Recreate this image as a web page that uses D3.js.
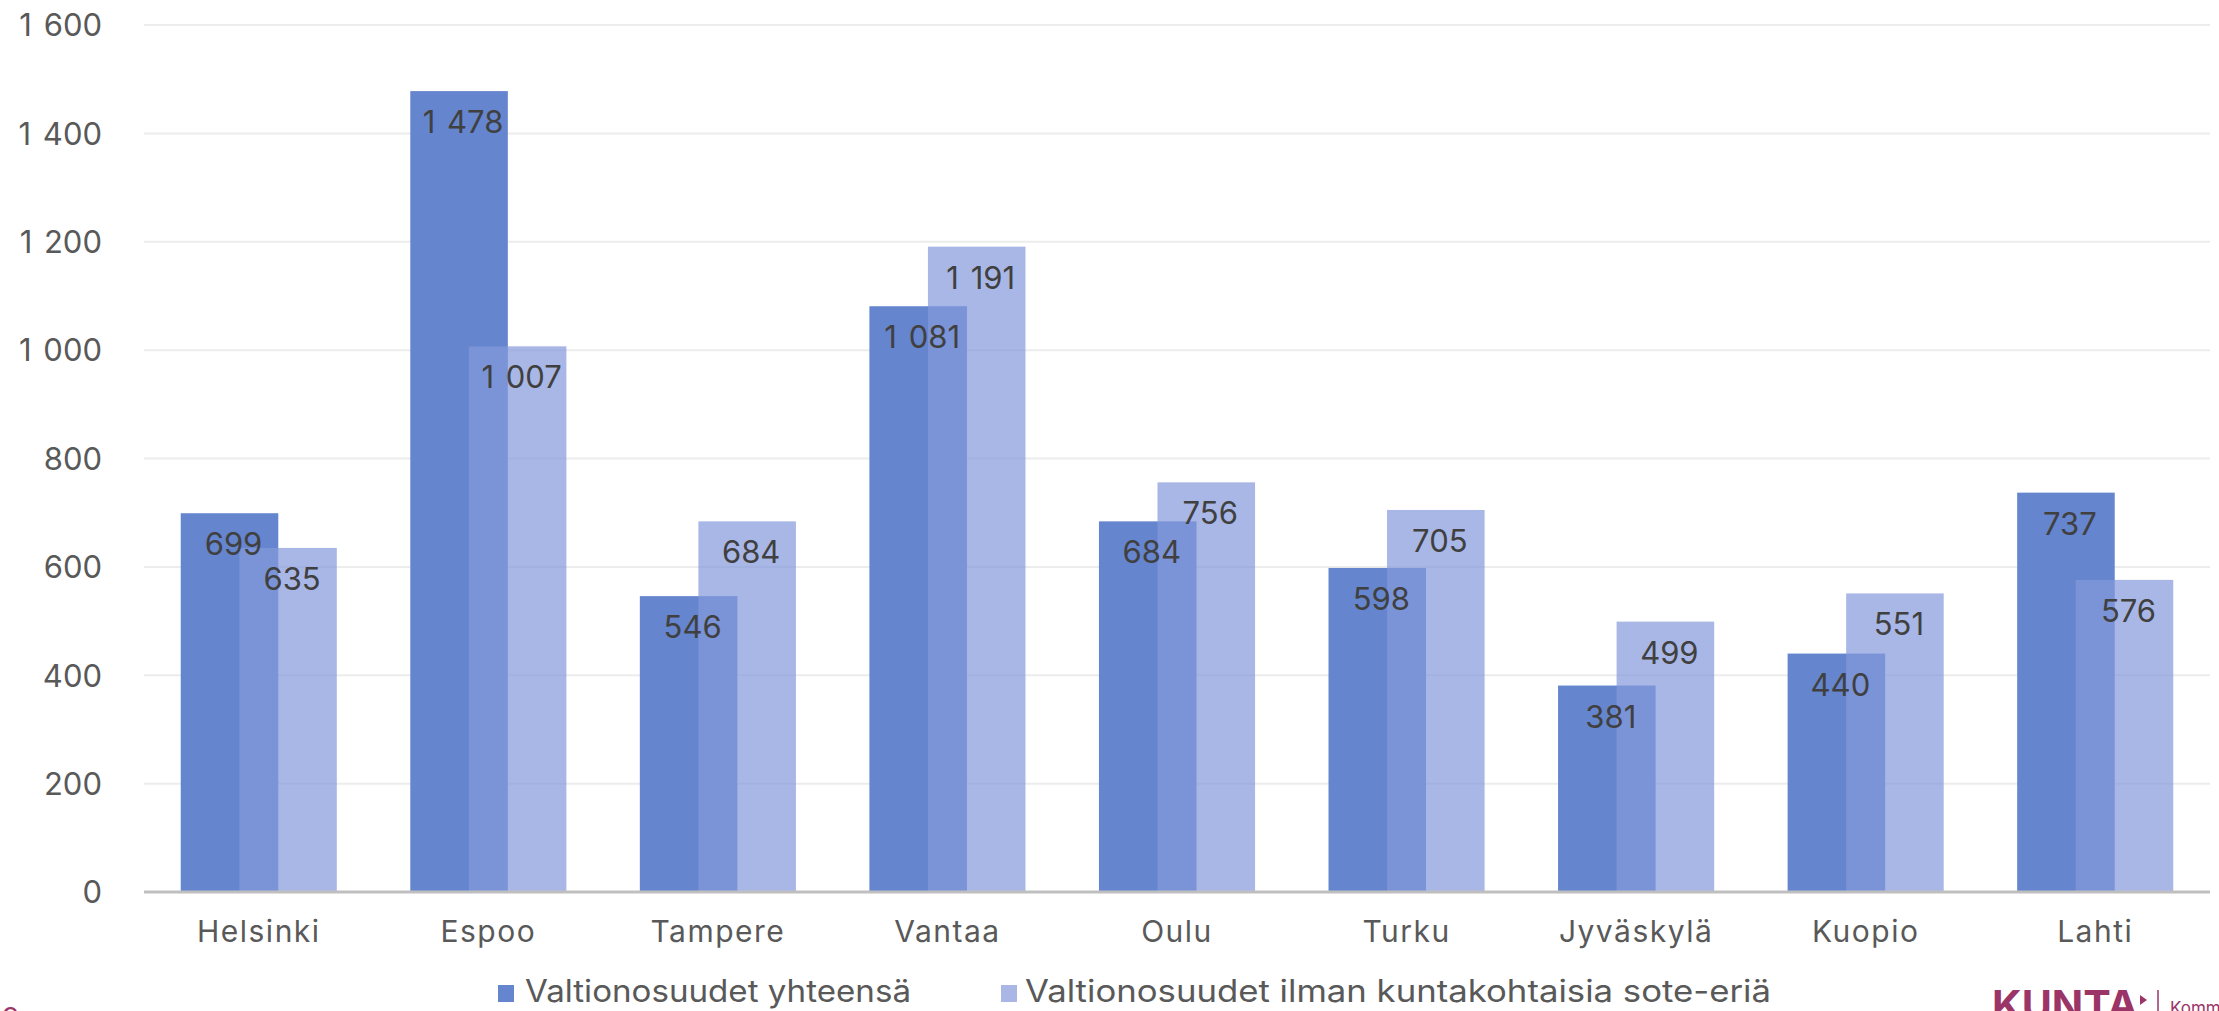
<!DOCTYPE html>
<html>
<head>
<meta charset="utf-8">
<script src="https://cdn.jsdelivr.net/npm/d3@7"></script>
<style>
  html, body { margin: 0; padding: 0; background: #ffffff; overflow: hidden; }
  svg { display: block; }
  text { font-family: Inter, "Open Sans", sans-serif; }
</style>
</head>
<body>
<svg id="chart" width="2219" height="1011"></svg>
<script>
// ---- data ----
const categories = ["Helsinki", "Espoo", "Tampere", "Vantaa", "Oulu", "Turku", "Jyväskylä", "Kuopio", "Lahti"];
const seriesNames = ["Valtionosuudet yhteensä", "Valtionosuudet ilman kuntakohtaisia sote-eriä"];
const totalValues = [699, 1478, 546, 1081, 684, 598, 381, 440, 737];
const withoutSoteValues = [635, 1007, 684, 1191, 756, 705, 499, 551, 576];
const yTicks = [0, 200, 400, 600, 800, 1000, 1200, 1400, 1600];

// ---- layout ----
const W = 2219, H = 1011;
const plot = { left: 144, right: 2210, top: 25, bottom: 892 };
const svg = d3.select("#chart");

const fmt = v => d3.format(",")(v).replace(/,/g, "\u2002").replace(/\u2002/g, " ");

const x = d3.scaleBand().domain(categories).range([plot.left, plot.right]).paddingInner(0).paddingOuter(0);
const y = d3.scaleLinear().domain([0, 1600]).range([plot.bottom, plot.top]);

const groupW = x.bandwidth() * 0.68;
const barW = groupW / 1.6;
const offset = barW * 0.6;

// gridlines
svg.append("g").selectAll("line").data(yTicks.filter(t => t > 0)).join("line")
  .attr("x1", plot.left).attr("x2", plot.right)
  .attr("y1", d => y(d)).attr("y2", d => y(d))
  .attr("stroke", "#ececec").attr("stroke-width", 2);

// y axis labels
const yAxis = d3.axisLeft(y).tickValues(yTicks).tickFormat(fmt).tickSize(0).tickPadding(0);
const yg = svg.append("g").attr("transform", `translate(102,0)`).call(yAxis);
yg.select(".domain").remove();
yg.selectAll("text").attr("font-family", "Inter, sans-serif").attr("font-size", 31)
  .attr("fill", "#595959").attr("dy", "0.35em").attr("x", 0).attr("word-spacing", 3);

const series = [
  { name: seriesNames[0], values: totalValues, color: "#6585ce", opacity: 1, shift: 0 },
  { name: seriesNames[1], values: withoutSoteValues, color: "rgb(133,152,219)", opacity: 0.7, shift: 1 }
];

const barX = (cat, s) => x(cat) + (x.bandwidth() - groupW) / 2 + s.shift * offset;

// bars
series.forEach(s => {
  svg.append("g").selectAll("rect").data(categories).join("rect")
    .attr("x", (c) => barX(c, s))
    .attr("width", barW)
    .attr("y", (c, i) => y(s.values[i]))
    .attr("height", (c, i) => y(0) - y(s.values[i]))
    .attr("fill", s.color)
    .attr("fill-opacity", s.opacity);
});

// axis baseline
svg.append("line").attr("x1", plot.left).attr("x2", plot.right)
  .attr("y1", y(0)).attr("y2", y(0)).attr("stroke", "#bfbfbf").attr("stroke-width", 3);

// value labels
series.forEach(s => {
  svg.append("g").selectAll("text").data(categories).join("text")
    .attr("x", c => barX(c, s) + barW / 2 + 4)
    .attr("y", (c, i) => y(s.values[i]) + 42)
    .attr("text-anchor", "middle")
    .attr("font-size", 31)
    .attr("word-spacing", 3)
    .attr("fill", "#404040")
    .text((c, i) => fmt(s.values[i]));
});

// category labels
const xAxis = d3.axisBottom(x).tickSize(0).tickPadding(0);
const xg = svg.append("g").attr("transform", `translate(0,${plot.bottom})`).call(xAxis);
xg.select(".domain").remove();
xg.selectAll("text").attr("font-family", "Inter, sans-serif").attr("font-size", 30)
  .attr("fill", "#595959").attr("letter-spacing", 1.5).attr("dy", 0).attr("y", 50);

// legend
const legendItems = [
  { name: seriesNames[0], color: "#6585ce", sx: 498, tx: 525, tw: 386 },
  { name: seriesNames[1], color: "#aab7e6", sx: 1001, tx: 1025, tw: 746 }
];
const lg = svg.append("g");
legendItems.forEach(it => {
  lg.append("rect").attr("x", it.sx).attr("y", 985).attr("width", 16).attr("height", 17).attr("fill", it.color);
  lg.append("text").attr("x", it.tx).attr("y", 1002).attr("font-size", 31).attr("fill", "#595959")
    .attr("textLength", it.tw).attr("lengthAdjust", "spacingAndGlyphs").text(it.name);
});

// page number (cut off at the bottom edge, as in the reference)
svg.append("text").attr("x", 2).attr("y", 1028).attr("font-size", 28).attr("fill", "#9b3467").text("9");

// logo
svg.append("text").attr("x", 1992).attr("y", 1019).attr("font-family", "'Liberation Serif', 'DejaVu Serif', serif")
  .attr("font-weight", "bold").attr("font-size", 40).attr("fill", "#9b3467")
  .attr("textLength", 146).attr("lengthAdjust", "spacingAndGlyphs").text("KUNTA");
svg.append("path").attr("d", "M2140,995 L2147,1000 L2140,1005 Z").attr("fill", "#9b3467");
svg.append("line").attr("x1", 2158).attr("x2", 2158).attr("y1", 990).attr("y2", 1011)
  .attr("stroke", "#9b3467").attr("stroke-width", 1.5);
svg.append("text").attr("x", 2170).attr("y", 1014).attr("font-size", 17).attr("fill", "#9b3467").text("Kommunförbundet");
</script>
</body>
</html>
